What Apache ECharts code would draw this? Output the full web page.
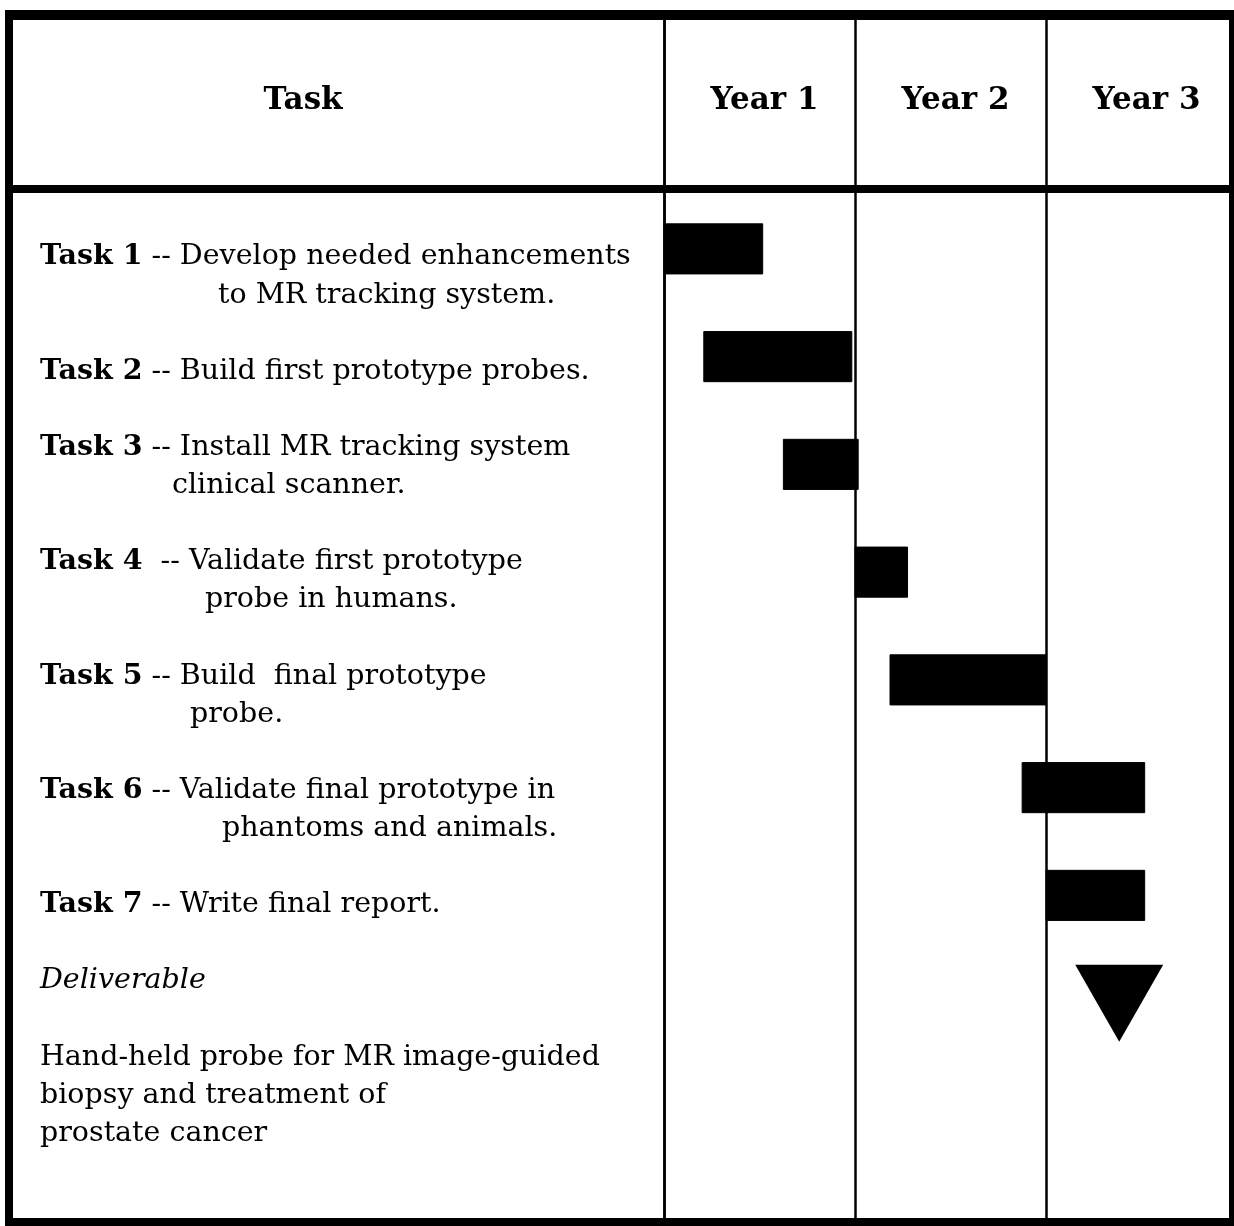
<!DOCTYPE html>
<html>
<head>
<meta charset="utf-8">
<title>Task schedule</title>
<script src="https://cdn.jsdelivr.net/npm/echarts@6/dist/echarts.min.js"></script>
<style>
html, body { margin: 0; padding: 0; background: #fff; }
#chart { width: 1234px; height: 1226px; }
</style>
</head>
<body>
<div id="chart"></div>
<script>
// schedule, in months from the start of the project
var yearLabels = ['Year 1', 'Year 2', 'Year 3'];
var taskNames = ['Task 1', 'Task 2', 'Task 3', 'Task 4', 'Task 5', 'Task 6', 'Task 7'];
var taskText = [
    ['-- Develop needed enhancements', 'to MR tracking system.'],
    ['-- Build first prototype probes.'],
    ['-- Install MR tracking system', 'clinical scanner.'],
    [' -- Validate first prototype', 'probe in humans.'],
    ['-- Build  final prototype', 'probe.'],
    ['-- Validate final prototype in', 'phantoms and animals.'],
    ['-- Write final report.']
];
var taskStart = [0, 2.5, 7.5, 12, 14.2, 22.5, 24];
var taskEnd   = [6.2, 11.8, 12.2, 15.3, 24, 30.2, 30.2];
var deliverableName  = 'Deliverable';
var deliverableMonth = 28.6;
var deliverableText  = ['Hand-held probe for MR image-guided', 'biopsy and treatment of', 'prostate cancer'];

// layout of the left column (text lines sit on a fixed line pitch)
var lineTop = 257, linePitch = 38.1, textX = 40;
var labelSlot    = [0, 3, 5, 8, 11, 14, 17];
var secondIndent = [218, 0, 172, 205, 190, 222, 0];
var bodyFont = 'DejaVu Serif';
var bodySize = 28.5;

var myChart = echarts.init(document.getElementById('chart'));

var graphics = [];
// table frame
function block(x, y, w, h) {
    graphics.push({ type: 'rect', shape: { x: x, y: y, width: w, height: h }, style: { fill: '#000' }, z: 10 });
}
block(5, 10, 1229, 10);     // top
block(5, 10, 8, 1216);      // left
block(5, 185, 1229, 8);     // under header
block(5, 1218, 1229, 8);    // bottom
block(1229, 10, 5, 1216);   // right

function textLine(str, x, y, extra) {
    var st = {
        text: str, x: x, y: y,
        fontFamily: bodyFont, fontSize: bodySize, fill: '#000',
        verticalAlign: 'middle', align: 'left',
        rich: { b: { fontFamily: bodyFont, fontSize: bodySize, fontWeight: 'bold', fill: '#000' } }
    };
    for (var k in extra) st[k] = extra[k];
    graphics.push({ type: 'text', style: st, z: 10 });
}

textLine('Task', 303, 101, { fontSize: 31, fontWeight: 'bold', align: 'center' });

for (var i = 0; i < taskNames.length; i++) {
    var y = lineTop + labelSlot[i] * linePitch;
    textLine('{b|' + taskNames[i] + '} ' + taskText[i][0], textX, y);
    if (taskText[i].length > 1) {
        textLine(taskText[i][1], secondIndent[i], y + linePitch);
    }
}
textLine(deliverableName, textX, lineTop + 19 * linePitch, { fontStyle: 'italic' });
for (var j = 0; j < deliverableText.length; j++) {
    textLine(deliverableText[j], textX, lineTop + (21 + j) * linePitch);
}

function renderBar(params, api) {
    var row = api.value(0);
    var p0 = api.coord([api.value(1), row]);
    var p1 = api.coord([api.value(2), row]);
    var h = api.size([0, 1])[1] * 0.465;
    return {
        type: 'rect',
        shape: { x: p0[0], y: p0[1] - h / 2, width: p1[0] - p0[0], height: h },
        style: { fill: '#000', stroke: '#000', lineWidth: 1 }
    };
}

var barData = taskNames.map(function (n, i) { return [i, taskStart[i], taskEnd[i]]; });

var option = {
    animation: false,
    backgroundColor: '#fff',
    graphic: graphics,
    grid: [
        { left: 664, top: 14, width: 573, height: 1210, outerBoundsMode: 'none', containLabel: false },
        { left: 664, top: 195, width: 573, height: 862, outerBoundsMode: 'none', containLabel: false }
    ],
    xAxis: [
        {   // year boundaries
            type: 'value', gridIndex: 0, min: 0, max: 36, interval: 12,
            axisLine: { show: false }, axisTick: { show: false }, axisLabel: { show: false },
            splitLine: { show: true, lineStyle: { color: '#000', width: 2.5, type: 'solid' } }
        },
        {   // year headings
            type: 'category', gridIndex: 0, data: yearLabels, position: 'top', offset: -87,
            axisLine: { show: false }, axisTick: { show: false }, splitLine: { show: false },
            axisLabel: {
                margin: 0, verticalAlign: 'middle', color: '#000',
                fontFamily: bodyFont, fontSize: 31, fontWeight: 'bold', padding: [0, 0, 0, 10]
            }
        },
        {   type: 'value', gridIndex: 1, min: 0, max: 36, show: false }
    ],
    yAxis: [
        {   type: 'value', gridIndex: 0, min: 0, max: 1,
            axisLine: { show: true, lineStyle: { color: '#000', width: 2.5 } },
            axisTick: { show: false }, axisLabel: { show: false }, splitLine: { show: false }
        },
        {   type: 'category', gridIndex: 1, data: taskNames.concat([deliverableName]),
            inverse: true, show: false
        }
    ],
    series: [
        {
            type: 'custom', name: 'tasks', xAxisIndex: 2, yAxisIndex: 1,
            renderItem: renderBar, encode: { x: [1, 2], y: 0 }, data: barData
        },
        {
            type: 'scatter', name: 'deliverable', xAxisIndex: 2, yAxisIndex: 1,
            symbol: 'triangle', symbolRotate: 180, symbolSize: [88, 77],
            itemStyle: { color: '#000', opacity: 1 },
            data: [[deliverableMonth, taskNames.length]]
        }
    ]
};

myChart.setOption(option);
</script>
</body>
</html>
